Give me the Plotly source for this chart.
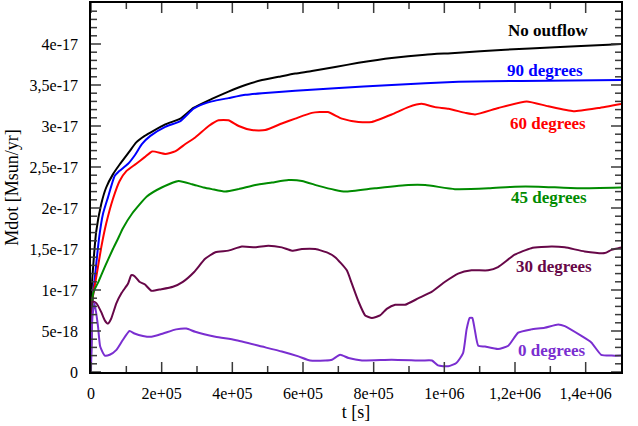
import plotly.graph_objects as go

# ---- data (t in s, Mdot in Msun/yr) ----
t_black = [0, 0.008e5, 0.074e5, 0.15e5, 0.29e5, 0.43e5, 0.62e5, 0.81e5, 1.09e5, 1.28e5, 1.52e5, 1.68e5, 2.1e5,
           2.53e5, 2.9e5, 3.42e5, 3.89e5, 4.37e5, 4.84e5, 5.31e5, 5.78e5, 6.25e5, 6.91e5, 7.57e5,
           8.51e5, 9.46e5, 10.3e5, 11.72e5, 13.13e5, 14.64e5, 15.0e5]
v_black = [0.2e-17, 0.92e-17, 1.36e-17, 1.72e-17, 2.05e-17, 2.25e-17, 2.41e-17, 2.53e-17, 2.69e-17, 2.80e-17,
           2.88e-17, 2.92e-17, 3.02e-17, 3.09e-17, 3.22e-17, 3.33e-17, 3.42e-17, 3.50e-17, 3.56e-17, 3.60e-17,
           3.64e-17, 3.67e-17, 3.72e-17, 3.77e-17, 3.83e-17, 3.87e-17, 3.89e-17, 3.93e-17, 3.96e-17, 3.99e-17,
           4.0e-17]

t_blue = [0, 0.04e5, 0.13e5, 0.23e5, 0.34e5, 0.48e5, 0.67e5, 0.8e5, 1.05e5, 1.25e5, 1.44e5, 1.68e5, 2.1e5,
          2.53e5, 2.9e5, 3.19e5, 3.42e5, 3.89e5, 4.37e5, 4.84e5, 5.78e5, 6.9e5, 8.51e5, 10.4e5, 12.19e5, 15.0e5]
v_blue = [0.15e-17, 0.84e-17, 1.24e-17, 1.64e-17, 1.93e-17, 2.13e-17, 2.39e-17, 2.45e-17, 2.54e-17, 2.65e-17,
          2.78e-17, 2.88e-17, 2.99e-17, 3.06e-17, 3.21e-17, 3.27e-17, 3.30e-17, 3.34e-17, 3.38e-17, 3.40e-17,
          3.43e-17, 3.46e-17, 3.50e-17, 3.54e-17, 3.55e-17, 3.56e-17]

t_red = [0, 0.04e5, 0.15e5, 0.29e5, 0.43e5, 0.62e5, 0.81e5, 1.0e5, 1.28e5, 1.52e5, 1.73e5, 2.1e5, 2.38e5,
         2.67e5, 2.95e5, 3.33e5, 3.61e5, 3.89e5, 4.18e5, 4.55e5, 4.93e5, 5.4e5, 5.78e5, 6.25e5, 6.7e5, 7.1e5,
         7.57e5, 7.95e5, 8.51e5, 8.98e5, 9.36e5, 9.74e5, 10.12e5, 10.59e5, 10.87e5, 11.53e5, 12.33e5, 12.94e5,
         13.65e5, 14.36e5, 15.0e5]
v_red = [0.15e-17, 0.88e-17, 1.16e-17, 1.52e-17, 1.81e-17, 2.11e-17, 2.33e-17, 2.45e-17, 2.54e-17, 2.62e-17,
         2.69e-17, 2.66e-17, 2.69e-17, 2.78e-17, 2.86e-17, 3.0e-17, 3.07e-17, 3.07e-17, 3.0e-17, 2.95e-17,
         2.95e-17, 3.03e-17, 3.09e-17, 3.16e-17, 3.17e-17, 3.09e-17, 3.05e-17, 3.05e-17, 3.14e-17, 3.23e-17,
         3.27e-17, 3.23e-17, 3.21e-17, 3.16e-17, 3.14e-17, 3.22e-17, 3.30e-17, 3.24e-17, 3.18e-17, 3.22e-17,
         3.27e-17]

t_green = [0, 0.06e5, 0.21e5, 0.4e5, 0.62e5, 0.78e5, 0.9e5, 1.16e5, 1.58e5, 2.0e5, 2.48e5, 2.86e5, 3.19e5,
           3.42e5, 3.8e5, 4.18e5, 4.65e5, 5.12e5, 5.59e5, 5.97e5, 6.44e5, 6.91e5, 7.19e5, 8.04e5, 8.98e5,
           9.46e5, 10.3e5, 11.25e5, 12.0e5, 12.66e5, 13.79e5, 15.0e5]
v_green = [0.15e-17, 0.96e-17, 1.1e-17, 1.29e-17, 1.50e-17, 1.64e-17, 1.75e-17, 1.93e-17, 2.14e-17, 2.25e-17,
           2.33e-17, 2.29e-17, 2.25e-17, 2.23e-17, 2.20e-17, 2.23e-17, 2.28e-17, 2.31e-17, 2.34e-17, 2.33e-17,
           2.27e-17, 2.22e-17, 2.20e-17, 2.24e-17, 2.28e-17, 2.28e-17, 2.23e-17, 2.24e-17, 2.26e-17, 2.26e-17,
           2.24e-17, 2.25e-17]

t_maroon = [0, 0.04e5, 0.15e5, 0.29e5, 0.39e5, 0.48e5, 0.57e5, 0.72e5, 0.86e5, 1.05e5, 1.14e5, 1.23e5, 1.37e5,
            1.52e5, 1.71e5, 1.99e5, 2.32e5, 2.6e5, 2.92e5, 3.23e5, 3.52e5, 3.89e5, 4.27e5, 4.65e5, 5.02e5,
            5.4e5, 5.69e5, 5.97e5, 6.35e5, 6.72e5, 6.91e5, 7.24e5, 7.38e5, 7.57e5, 7.76e5, 7.95e5, 8.18e5,
            8.37e5, 8.61e5, 8.89e5, 9.27e5, 9.65e5, 10.02e5, 10.39e5, 10.77e5, 11.24e5, 11.52e5, 11.99e5,
            12.46e5, 13.03e5, 13.41e5, 13.97e5, 14.54e5, 14.73e5, 15.0e5]
v_maroon = [0.3e-17, 0.86e-17, 0.84e-17, 0.73e-17, 0.63e-17, 0.59e-17, 0.65e-17, 0.84e-17, 0.96e-17, 1.08e-17,
            1.18e-17, 1.17e-17, 1.10e-17, 1.07e-17, 0.99e-17, 1.01e-17, 1.04e-17, 1.10e-17, 1.22e-17, 1.38e-17,
            1.46e-17, 1.48e-17, 1.53e-17, 1.52e-17, 1.54e-17, 1.52e-17, 1.48e-17, 1.50e-17, 1.50e-17, 1.45e-17,
            1.40e-17, 1.24e-17, 1.08e-17, 0.86e-17, 0.69e-17, 0.66e-17, 0.69e-17, 0.77e-17, 0.82e-17, 0.82e-17,
            0.90e-17, 0.98e-17, 1.10e-17, 1.20e-17, 1.24e-17, 1.24e-17, 1.28e-17, 1.43e-17, 1.51e-17, 1.53e-17,
            1.52e-17, 1.47e-17, 1.45e-17, 1.49e-17, 1.52e-17]

t_purple = [0, 0.04e5, 0.1e5, 0.2e5, 0.26e5, 0.39e5, 0.53e5, 0.72e5, 0.9e5, 1.09e5, 1.23e5, 1.47e5, 1.71e5,
            2.04e5, 2.41e5, 2.7e5, 2.95e5, 3.52e5, 4.08e5, 4.84e5, 5.4e5, 5.87e5, 6.2e5, 6.63e5, 6.82e5, 7.05e5,
            7.29e5, 7.67e5, 8.51e5, 9.36e5, 9.65e5, 9.82e5, 10.11e5, 10.34e5, 10.53e5, 10.63e5, 10.72e5, 10.79e5,
            10.86e5, 10.96e5, 11.15e5, 11.52e5, 11.81e5, 12.09e5, 12.46e5, 12.84e5, 13.22e5, 13.41e5, 13.88e5,
            14.16e5, 14.44e5, 14.73e5, 15.0e5]
v_purple = [0.0, 0.67e-17, 0.84e-17, 0.55e-17, 0.31e-17, 0.20e-17, 0.21e-17, 0.27e-17, 0.39e-17, 0.50e-17,
            0.47e-17, 0.44e-17, 0.43e-17, 0.47e-17, 0.52e-17, 0.53e-17, 0.49e-17, 0.43e-17, 0.39e-17, 0.31e-17,
            0.25e-17, 0.19e-17, 0.14e-17, 0.14e-17, 0.15e-17, 0.21e-17, 0.17e-17, 0.14e-17, 0.15e-17, 0.14e-17,
            0.14e-17, 0.08e-17, 0.07e-17, 0.11e-17, 0.23e-17, 0.52e-17, 0.66e-17, 0.66e-17, 0.52e-17, 0.32e-17,
            0.31e-17, 0.28e-17, 0.32e-17, 0.48e-17, 0.52e-17, 0.54e-17, 0.58e-17, 0.56e-17, 0.44e-17, 0.36e-17,
            0.21e-17, 0.20e-17, 0.20e-17]

series_names = ["No outflow", "90 degrees", "60 degrees", "45 degrees", "30 degrees", "0 degrees"]
series_colors = ["#000000", "#0000ff", "#ff0000", "#008b00", "#670748", "#7a2ed0"]
label_t = [12.94e5, 12.84e5, 12.94e5, 12.96e5, 13.11e5, 13.05e5]
label_v = [4.16e-17, 3.68e-17, 3.03e-17, 2.13e-17, 1.29e-17, 0.26e-17]

x_tickvals = [0, 2e5, 4e5, 6e5, 8e5, 1e6, 1.2e6, 1.4e6]
x_ticktext = ["0", "2e+05", "4e+05", "6e+05", "8e+05", "1e+06", "1,2e+06", "1,4e+06"]
y_tickvals = [0, 5e-18, 1e-17, 1.5e-17, 2e-17, 2.5e-17, 3e-17, 3.5e-17, 4e-17]
y_ticktext = ["0", "5e-18", "1e-17", "1,5e-17", "2e-17", "2,5e-17", "3e-17", "3,5e-17", "4e-17"]
x_minor_vals = [k * 1e5 for k in range(1, 15, 2)]
y_minor_vals = [k * 1e-18 for k in range(1, 45) if k % 5 != 0]

xs = [t_black, t_blue, t_red, t_green, t_maroon, t_purple]
ys = [v_black, v_blue, v_red, v_green, v_maroon, v_purple]

FONT = "Liberation Serif, Times New Roman, serif"
X_RANGE = [0, 1.5e6]
Y_RANGE = [0, 4.5e-17]
TICK_COLOR = "#3a3a3a"
MAJOR_LEN = 10
MINOR_LEN = 6

fig = go.Figure()
for x, y, name, col in zip(xs, ys, series_names, series_colors):
    fig.add_trace(go.Scatter(x=x, y=y, mode="lines", name=name, hoverinfo="skip",
                             line=dict(color=col, width=2, shape="spline", smoothing=0.5)))

for name, col, tx, ty in zip(series_names, series_colors, label_t, label_v):
    fig.add_annotation(x=tx, y=ty, xref="x", yref="y", text="<b>%s</b>" % name, showarrow=False,
                       font=dict(family=FONT, size=17, color=col))

# inward tick marks on all four sides, drawn from the tick lists (pixel-length shapes)
tick_line = dict(color=TICK_COLOR, width=1.5)
for vals, ln in [(x_tickvals, MAJOR_LEN), (x_minor_vals, MINOR_LEN)]:
    for v in vals:
        fig.add_shape(type="line", xref="x", yref="paper", ysizemode="pixel", yanchor=0,
                      x0=v, x1=v, y0=0, y1=ln, line=tick_line, layer="above")
        fig.add_shape(type="line", xref="x", yref="paper", ysizemode="pixel", yanchor=1,
                      x0=v, x1=v, y0=0, y1=-ln, line=tick_line, layer="above")
for vals, ln in [(y_tickvals, MAJOR_LEN), (y_minor_vals, MINOR_LEN)]:
    for v in vals:
        fig.add_shape(type="line", xref="paper", yref="y", xsizemode="pixel", xanchor=0,
                      x0=0, x1=ln, y0=v, y1=v, line=tick_line, layer="above")
        fig.add_shape(type="line", xref="paper", yref="y", xsizemode="pixel", xanchor=1,
                      x0=0, x1=-ln, y0=v, y1=v, line=tick_line, layer="above")

axis_common = dict(showline=True, linecolor="#000000", linewidth=1.5, mirror=True,
                   ticks="", showgrid=False, zeroline=False, tickmode="array",
                   tickfont=dict(family=FONT, size=16, color="#000000"))

fig.update_layout(
    xaxis=dict(range=X_RANGE, tickvals=x_tickvals, ticktext=x_ticktext, ticklabelstandoff=6,
               title=dict(text="t [s]", font=dict(family=FONT, size=18, color="#000000"), standoff=4),
               **axis_common),
    yaxis=dict(range=Y_RANGE, tickvals=y_tickvals, ticktext=y_ticktext, ticklabelstandoff=8,
               title=dict(text="Mdot [Msun/yr]", font=dict(family=FONT, size=18, color="#000000"), standoff=6),
               **axis_common),
)

fig.update_layout(width=638, height=426, margin=dict(l=91, r=17, t=1, b=54),
                  paper_bgcolor="white", plot_bgcolor="white", showlegend=False)

fig.write_html("out.html", config={"displayModeBar": False},
               post_script="document.body.style.margin='0';document.body.style.overflow='hidden';")
